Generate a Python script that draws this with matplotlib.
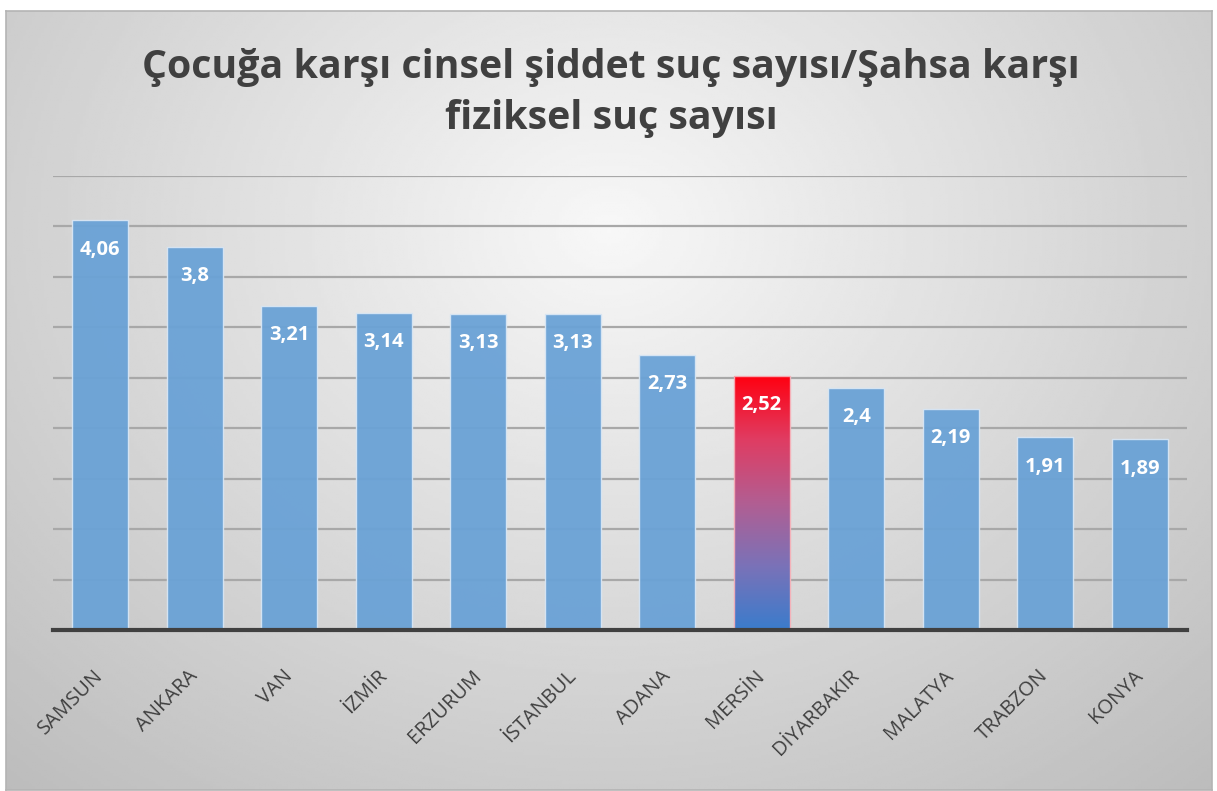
import numpy as np
import matplotlib.pyplot as plt
from matplotlib.colors import LinearSegmentedColormap

# veriler
iller = ['SAMSUN', 'ANKARA', 'VAN', 'İZMİR', 'ERZURUM', 'İSTANBUL',
         'ADANA', 'MERSİN', 'DİYARBAKIR', 'MALATYA', 'TRABZON', 'KONYA']
oranlar = [4.06, 3.8, 3.21, 3.14, 3.13, 3.13, 2.73, 2.52, 2.4, 2.19, 1.91, 1.89]
etiketler = ['4,06', '3,8', '3,21', '3,14', '3,13', '3,13',
             '2,73', '2,52', '2,4', '2,19', '1,91', '1,89']
vurgu = 'MERSİN'

baslik = 'Çocuğa karşı cinsel şiddet suç sayısı/Şahsa karşı\nfiziksel suç sayısı'

plt.rcParams['font.family'] = ['Open Sans', 'DejaVu Sans']

W, H = 1217, 791
fig = plt.figure(figsize=(W / 100, H / 100), dpi=100)
fig.patch.set_facecolor('white')

# arka plan: radyal gradyan
bg = fig.add_axes([6 / W, 1 / H, (1212 - 6) / W, (785 - 6) / H], zorder=0)
yy, xx = np.mgrid[0:1:300j, 0:1:400j]
r = np.sqrt(((xx - 0.5) / 0.75) ** 2 + ((yy - 0.72) / 0.95) ** 2)
deger = np.clip(0.97 - 0.23 * r, 0, 1)
bg.imshow(deger, cmap='gray', vmin=0, vmax=1, aspect='auto',
          extent=[0, 1, 0, 1], origin='lower')
bg.set_xticks([])
bg.set_yticks([])
for s in bg.spines.values():
    s.set_color('#b4b4b4')
    s.set_linewidth(1.2)

ax = fig.add_axes([53 / W, (H - 630) / H, (1187 - 53) / W, (630 - 176) / H], zorder=1)
ax.patch.set_alpha(0)

x = np.arange(len(iller))
cubuklar = ax.bar(x, oranlar, width=0.59, color='#6aa2d6', edgecolor='#d8e6f4',
                  linewidth=1.0, alpha=0.95, zorder=3)

# vurgulanan il icin kirmizi-mavi gradyan
kmap = LinearSegmentedColormap.from_list(
    'kb', ['#3a7ccc', '#7a72b8', '#b25e92', '#e03c62', '#ff0010'])
i = iller.index(vurgu)
b = cubuklar[i]
b.set_facecolor('none')
b.set_edgecolor('#f6b0b8')
grad = np.linspace(0, 1, 256).reshape(-1, 1)
im = ax.imshow(grad, cmap=kmap, aspect='auto', origin='lower',
               extent=[b.get_x(), b.get_x() + b.get_width(), 0, b.get_height()],
               zorder=2.9)
im.set_clip_path(b)

for xi, v, t in zip(x, oranlar, etiketler):
    ax.text(xi, v - 0.29, t, ha='center', va='center', color='white',
            fontsize=14.5, fontweight='bold', zorder=5)

ax.set_xlim(-0.5, len(iller) - 0.5)
ax.set_ylim(0, 4.5)
ax.set_yticks(np.arange(0.5, 4.51, 0.5))
ax.yaxis.grid(True, color='#a8a8a8', linewidth=1.6, zorder=1)
ax.set_axisbelow(True)
ax.tick_params(axis='y', left=False, labelleft=False)
ax.tick_params(axis='x', length=0, pad=31)
ax.set_xticks(x)
ax.set_xticklabels(iller, rotation=45, ha='right', va='center',
                   rotation_mode='anchor', fontsize=14.5, color='#404040')
for s in ['top', 'right', 'left']:
    ax.spines[s].set_visible(False)
ax.spines['bottom'].set_color('#404040')
ax.spines['bottom'].set_linewidth(3)
ax.spines['bottom'].set_zorder(6)

fig.text(611 / W, 1 - 93 / H, baslik, ha='center', va='center',
         fontsize=28.3, fontweight='bold', color='#404040', linespacing=1.42)

fig.savefig('out.png', dpi=100)
